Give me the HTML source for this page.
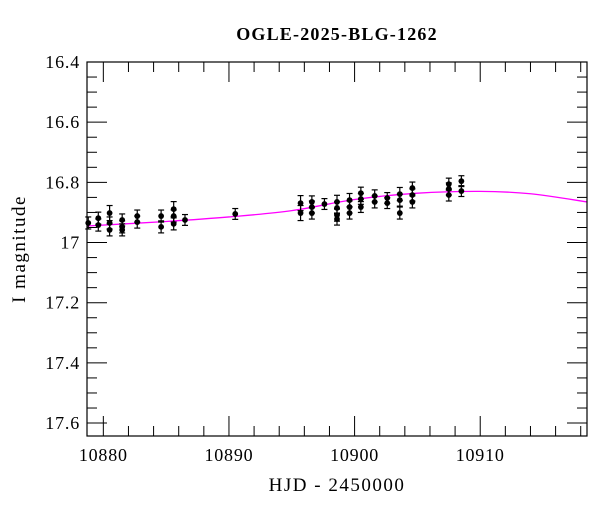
<!DOCTYPE html>
<html><head><meta charset="utf-8"><style>
body{margin:0;background:#fff}
svg text{font-family:"Liberation Serif","DejaVu Serif",serif;fill:#000}
</style></head><body>
<svg id="chart" width="600" height="512" viewBox="0 0 600 512" xmlns="http://www.w3.org/2000/svg">
<text x="337" y="40" font-size="18" font-weight="bold" letter-spacing="1.2" text-anchor="middle">OGLE-2025-BLG-1262</text>
<text transform="translate(25,249) rotate(-90)" font-size="19" letter-spacing="1.5" text-anchor="middle">I magnitude</text>
<text x="337" y="491" font-size="19" letter-spacing="1.5" text-anchor="middle">HJD - 2450000</text>
<g id="axes"></g><g id="model"></g><g id="points"></g>
<rect x="87" y="62" width="500" height="374" fill="none" stroke="#000" stroke-width="1.2"/>
</svg>
<script>
const obsT=[10878.8,10879.6,10879.6,10880.5,10880.5,10880.5,10881.5,10881.5,10881.5,10882.7,10882.7,10884.6,10884.6,10885.6,10885.6,10885.6,10886.5,10890.5,
10895.7,10895.7,10896.6,10896.6,10896.6,10897.6,10898.6,10898.6,10898.6,10898.6,10899.6,10899.6,10899.6,10900.5,10900.5,10900.5,10901.6,10901.6,10902.6,10902.6,10903.6,10903.6,10903.6,10904.6,10904.6,10904.6,10907.5,10907.5,10907.5,10908.5,10908.5];
const obsMag=[16.935,16.919,16.942,16.902,16.935,16.958,16.925,16.948,16.958,16.912,16.932,16.912,16.948,16.889,16.912,16.938,16.925,16.905,
16.869,16.902,16.865,16.882,16.902,16.872,16.865,16.885,16.909,16.922,16.859,16.882,16.902,16.836,16.855,16.882,16.845,16.865,16.852,16.869,16.839,16.859,16.902,16.819,16.842,16.865,16.806,16.822,16.842,16.796,16.829];
const obsErr=[0.02,0.02,0.02,0.025,0.02,0.02,0.02,0.02,0.02,0.02,0.02,0.02,0.02,0.025,0.02,0.02,0.018,0.018,
0.025,0.025,0.02,0.02,0.02,0.018,0.022,0.02,0.02,0.02,0.022,0.02,0.02,0.02,0.018,0.018,0.02,0.02,0.018,0.018,0.022,0.02,0.02,0.02,0.02,0.02,0.02,0.02,0.02,0.018,0.018];
const modelT=[10878.7,10885,10890,10895,10900,10905,10910,10914,10918.5];
const modelMag=[16.945,16.93,16.915,16.894,16.857,16.836,16.830,16.838,16.865];
const xTicks=[10880,10890,10900,10910];
const yTicks=[16.4,16.6,16.8,17,17.2,17.4,17.6];
const yTickLabels=["16.4","16.6","16.8","17","17.2","17.4","17.6"];

const L=87,R=587,T=62,B=436,t0=10878.7,t1=10918.5,m0=16.4,m1=17.643;
const X=t=>L+(t-t0)/(t1-t0)*(R-L);
const Y=m=>T+(m-m0)/(m1-m0)*(B-T);
const NS="http://www.w3.org/2000/svg";
function mk(tag,attrs,parent){const e=document.createElementNS(NS,tag);for(const k in attrs)e.setAttribute(k,attrs[k]);parent.appendChild(e);return e;}
const axes=document.getElementById('axes');
for(let t=10880;t<=t1;t+=2){
  const major=xTicks.includes(t),len=major?20:10,x=X(t);
  const a=mk('line',{x1:x,x2:x,y1:B,y2:B-len,stroke:'#000'},axes);
  
  
  const b=mk('line',{x1:x,x2:x,y1:T,y2:T+len,stroke:'#000'},axes);
  
  
}
xTicks.forEach(t=>{
  const tx=mk('text',{x:X(t),y:461,'font-size':18,'letter-spacing':0.8,'text-anchor':'middle'},axes);tx.textContent=String(t);
  
  
});
for(let i=0;i<=24;i++){
  const m=16.4+i*0.05,major=i%4==0,len=major?20:10,y=Y(m);
  const a=mk('line',{x1:L,x2:L+len,y1:y,y2:y,stroke:'#000'},axes);
  
  
  const b=mk('line',{x1:R,x2:R-len,y1:y,y2:y,stroke:'#000'},axes);
  
  
}
yTicks.forEach((m,i)=>{
  const tx=mk('text',{x:80,y:Y(m)+6,'font-size':18,'letter-spacing':0.8,'text-anchor':'end'},axes);tx.textContent=yTickLabels[i];
  
  
});
const P=modelT.map((t,i)=>[X(t),Y(modelMag[i])]);
let d='M'+P[0][0]+','+P[0][1];
for(let i=0;i<P.length-1;i++){
  const p0=P[Math.max(0,i-1)],p1=P[i],p2=P[i+1],p3=P[Math.min(P.length-1,i+2)];
  d+=` C${p1[0]+(p2[0]-p0[0])/6},${p1[1]+(p2[1]-p0[1])/6} ${p2[0]-(p3[0]-p1[0])/6},${p2[1]-(p3[1]-p1[1])/6} ${p2[0]},${p2[1]}`;
}
const mp=mk('path',{d:d,fill:'none',stroke:'#ff00ff','stroke-width':1.3},document.getElementById('model'));


const pts=document.getElementById('points');
obsT.forEach((t,i)=>{
  const x=X(t),y=Y(obsMag[i]),y1=Y(obsMag[i]-obsErr[i]),y2=Y(obsMag[i]+obsErr[i]);
  const g=mk('g',{},pts);
  
  
  mk('line',{x1:x,x2:x,y1:y1,y2:y2,stroke:'#000','stroke-width':1.2},g);
  mk('line',{x1:x-3,x2:x+3,y1:y1,y2:y1,stroke:'#000','stroke-width':1.2},g);
  mk('line',{x1:x-3,x2:x+3,y1:y2,y2:y2,stroke:'#000','stroke-width':1.2},g);
  mk('circle',{cx:x,cy:y,r:2.9,fill:'#000'},g);
});
</script>
</body></html>
